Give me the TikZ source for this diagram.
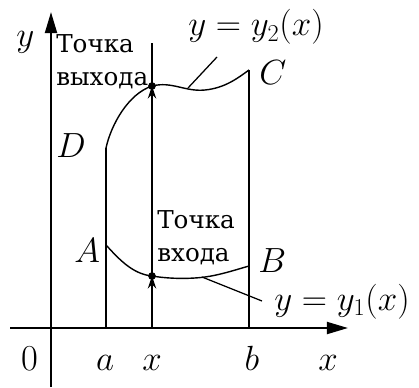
\documentclass[tikz,border=0pt]{standalone}
\usepackage{fontspec}
\newfontfamily\cyrserif{DejaVu Serif}
\usetikzlibrary{arrows.meta}

\begin{document}
\begin{tikzpicture}[x=0.025cm, y=-0.025cm,
    axis/.style={line width=1.5pt, -{Triangle[length=15pt,width=8.5pt]}},
    curve/.style={line width=1pt},
    edge/.style={line width=0.9pt},
    leader/.style={line width=0.9pt},
    flow/.style={line width=0.9pt, -{Stealth[length=9pt,width=6pt,inset=3pt]}},
    dot/.style={circle, fill, inner sep=0pt, minimum size=5.5pt},
    lab/.style={font=\fontsize{26}{26}\selectfont, inner sep=0pt},
    note/.style={font=\cyrserif\fontsize{17.5}{24}\selectfont, inner sep=0pt, align=left},
]
\useasboundingbox (0,0) rectangle (419,387);

% axes
\coordinate (ybot) at (51,387);  \coordinate (ytip) at (51,12);
\coordinate (xbeg) at (10,328);  \coordinate (xtip) at (348,328);
\draw[axis] (ybot) -- (ytip);
\draw[axis] (xbeg) -- (xtip);

% key points
\coordinate (A) at (106,245);  \coordinate (B) at (249,266);
\coordinate (C) at (249,70);   \coordinate (D) at (106,148);
\coordinate (a0) at (106,328); \coordinate (b0) at (249,328);
\coordinate (x0) at (152,328); \coordinate (xtop) at (152,43);
\coordinate (P1) at (152,276); \coordinate (P2) at (152,86);

\draw[edge] (a0) -- (D);
\draw[edge] (b0) -- (C);
\draw[edge] (x0) -- (xtop);

% y = y2(x) and y = y1(x)
\draw[curve] (D) .. controls (111,125) and (128,94) .. (P2)
    .. controls (172,81) and (185,92) .. (205,90)
    .. controls (225,88) and (238,78) .. (C);
\draw[curve] (A) .. controls (118,258) and (132,274) .. (P1)
    .. controls (170,279) and (190,279) .. (205,277)
    .. controls (220,275) and (235,270) .. (B);

\draw[flow] (152,104) -- (P2);
\draw[flow] (152,294) -- (P1);
\node[dot] (in)  at (P1) {};
\node[dot] (out) at (P2) {};

% labels
\node[lab, anchor=base west] (ylab) at (16,47) {$y$};
\node[note, anchor=north west] (outlab) at (56,34) {Точка\\выхода};
\node[note, anchor=north west] (inlab) at (157,210) {Точка\\входа};
\node[lab, anchor=base west] (eq2) at (188,36) {$y=y_2(x)$};
\node[lab, anchor=base west] (eq1) at (274,310) {$y=y_1(x)$};
\node[lab, anchor=base west] (Clab) at (259,84) {$C$};
\node[lab, anchor=base west] (Dlab) at (56,157) {$D$};
\node[lab, anchor=base west] (Alab) at (74,262) {$A$};
\node[lab, anchor=base west] (Blab) at (258,272) {$B$};
\node[lab, anchor=base] (zero) at (30,370) {0};
\node[lab, anchor=base] (alab) at (105,370) {$a$};
\node[lab, anchor=base] (xlab) at (152,370) {$x$};
\node[lab, anchor=base] (blab) at (252,370) {$b$};
\node[lab, anchor=base] (xaxlab) at (328,370) {$x$};

\coordinate (l2) at (188,88);  \coordinate (l2e) at (217,57);
\coordinate (l1) at (202,277); \coordinate (l1e) at (262,301);
\draw[leader] (l2) -- (l2e);
\draw[leader] (l1) -- (l1e);
\end{tikzpicture}
\end{document}
